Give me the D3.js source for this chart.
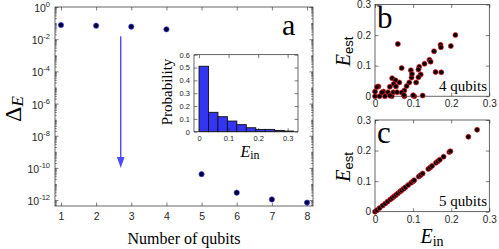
<!DOCTYPE html>
<head>
    <meta charset="utf-8">
    <script src="https://d3js.org/d3.v7.min.js"></script>
</head>
<body style="background: white; margin: 0">
    <div id="my_dataviz"></div>
    <script>
        // panel a: error vs number of qubits
        var qubits = [1, 2, 3, 4, 5, 6, 7, 8];
        var deltaE = [7.6e-2, 6.9e-2, 6.0e-2, 4.1e-2, 4.1e-11, 2.9e-12, 1.1e-12, 7e-13];
        var logExps = [0, -2, -4, -6, -8, -10, -12];

        // inset histogram of E_in
        var binLeft = [0, 0.032, 0.064, 0.096, 0.128, 0.160, 0.192, 0.224, 0.256, 0.288];
        var binProb = [0.51, 0.151, 0.117, 0.083, 0.055, 0.031, 0.018, 0.018, 0.010, 0.005];
        var binWidth = 0.032;
        var insetXTicks = [0, 0.1, 0.2, 0.3];
        var insetYTicks = [0, 0.1, 0.2, 0.3, 0.4, 0.5, 0.6];

        // panel b: 4 qubits
        var b4In = [0.211, 0.172, 0.173, 0.199, 0.060, 0.155, 0.143, 0.146, 0.130, 0.116, 0.114, 0.159, 0.174,
            0.070, 0.094, 0.120, 0.096, 0.114, 0.108, 0.090, 0.045, 0.054, 0.064, 0.049, 0.083, 0.077, 0.009,
            0.039, 0.055, 0.022, 0.034, 0.048, 0.058, 0.000, 0.012, 0.026, 0.044, 0.077, 0.103, 0.125, 0.100,
            0.070, 0.000, 0.005, 0.018, 0.039, 0.076, 0.097];
        var b4Est = [0.200, 0.168, 0.160, 0.164, 0.171, 0.147, 0.119, 0.113, 0.106, 0.096, 0.087, 0.079, 0.078,
            0.092, 0.085, 0.071, 0.061, 0.062, 0.045, 0.045, 0.059, 0.052, 0.045, 0.040, 0.033, 0.019, 0.032,
            0.031, 0.032, 0.015, 0.013, 0.013, 0.013, 0.000, 0.000, 0.000, 0.000, 0.000, 0.000, 0.002, 0.003,
            0.012, 0.015, 0.030, 0.012, 0.002, 0.004, 0.073];

        // panel c: 5 qubits
        var c5In = [0, 0.005, 0.012, 0.020, 0.027, 0.033, 0.040, 0.045, 0.050, 0.055, 0.060, 0.066, 0.070,
            0.075, 0.080, 0.087, 0.095, 0.100, 0.103, 0.115, 0.120, 0.125, 0.140, 0.145, 0.150, 0.160, 0.165,
            0.170, 0.180, 0.195, 0.198, 0.245, 0.268];
        var c5Est = [0, 0.005, 0.012, 0.020, 0.027, 0.033, 0.040, 0.045, 0.050, 0.055, 0.060, 0.066, 0.070,
            0.075, 0.080, 0.087, 0.095, 0.100, 0.103, 0.115, 0.120, 0.125, 0.140, 0.145, 0.150, 0.160, 0.165,
            0.170, 0.180, 0.195, 0.198, 0.245, 0.268];
        var panelTicks = [0, 0.1, 0.2, 0.3];

        var axisColor = "#262626";
        var sans = "'Liberation Sans', Arial, sans-serif";
        var serif = "'Liberation Serif', 'Times New Roman', serif";

        var svg = d3.select("#my_dataviz")
            .append("svg")
            .attr("width", 499)
            .attr("height", 249);

        function styleAxis(g, size) {
            g.select(".domain").remove();
            g.selectAll("line").attr("stroke", axisColor).attr("stroke-width", 0.6);
            g.selectAll("text").attr("fill", axisColor).style("font-family", sans).style("font-size", size + "px");
        }

        // draws a box with inward ticks on all four sides
        function box(x, y, xt, yt, fontSize, pad, showX, showY) {
            var x0 = x.range()[0], x1 = x.range()[1], y0 = y.range()[0], y1 = y.range()[1];
            var fmt = function (d) { return d3.format("~g")(d) };
            svg.append("g").attr("transform", "translate(0," + y0 + ")")
                .call(d3.axisBottom(x).tickValues(xt).tickSize(-3.5).tickSizeOuter(0).tickPadding(pad)
                    .tickFormat(showX ? fmt : ""))
                .call(styleAxis, fontSize);
            svg.append("g").attr("transform", "translate(0," + y1 + ")")
                .call(d3.axisTop(x).tickValues(xt).tickSize(-3.5).tickSizeOuter(0).tickFormat(""))
                .call(styleAxis, fontSize);
            svg.append("g").attr("transform", "translate(" + x0 + ",0)")
                .call(d3.axisLeft(y).tickValues(yt).tickSize(-3.5).tickSizeOuter(0).tickPadding(pad)
                    .tickFormat(showY ? fmt : ""))
                .call(styleAxis, fontSize);
            svg.append("g").attr("transform", "translate(" + x1 + ",0)")
                .call(d3.axisRight(y).tickValues(yt).tickSize(-3.5).tickSizeOuter(0).tickFormat(""))
                .call(styleAxis, fontSize);
            svg.append("rect")
                .attr("x", x0).attr("y", y1)
                .attr("width", x1 - x0).attr("height", y0 - y1)
                .attr("fill", "none").attr("stroke", axisColor).attr("stroke-width", 0.7);
        }

        // ---------- panel a ----------
        var xMain = d3.scaleLinear().domain([0.83, 8.17]).range([55, 313]);
        var yMain = d3.scaleLog().domain([4.3e-13, 1]).range([206, 7]);

        var majors = logExps.map(function (e) { return Math.pow(10, e) });
        var minors = [];
        for (var e = -13; e < 0; e++) {
            for (var k = 1; k < 10; k++) {
                var v = k * Math.pow(10, e);
                if (v >= 4.3e-13 && majors.indexOf(v) < 0) minors.push(v);
            }
        }

        box(xMain, yMain, qubits, majors, 10.5, 7, true, false);
        // minor log ticks, left and right
        svg.append("g").attr("transform", "translate(55,0)")
            .call(d3.axisLeft(yMain).tickValues(minors).tickSize(-1.8).tickSizeOuter(0).tickFormat(""))
            .call(styleAxis, 10);
        svg.append("g").attr("transform", "translate(313,0)")
            .call(d3.axisRight(yMain).tickValues(minors).tickSize(-1.8).tickSizeOuter(0).tickFormat(""))
            .call(styleAxis, 10);

        // 10^n labels
        var logLab = svg.append("g").selectAll("text")
            .data(logExps)
            .enter()
            .append("text")
            .attr("x", 50)
            .attr("y", function (d) { return yMain(Math.pow(10, d)) + 5 })
            .attr("text-anchor", "end")
            .attr("fill", axisColor)
            .style("font-family", sans)
            .style("font-size", "10.5px");
        logLab.append("tspan").text("10");
        logLab.append("tspan").attr("dy", -5).style("font-size", "7.5px").text(function (d) { return d == 0 ? "0" : "-" + (-d) });

        // arrow
        var arrowX = 2.7, arrowFrom = 1.5e-2, arrowTo = 1e-10;
        var ax = xMain(arrowX), tipY = yMain(arrowTo);
        svg.append("line")
            .attr("x1", ax).attr("x2", ax)
            .attr("y1", yMain(arrowFrom)).attr("y2", tipY - 8)
            .attr("stroke", "#4a4aff").attr("stroke-width", 1.4);
        svg.append("path")
            .attr("d", "M" + (ax - 3.8) + "," + (tipY - 11) + "L" + (ax + 3.8) + "," + (tipY - 11) + "L" + ax + "," + tipY + "Z")
            .attr("fill", "#4a4aff");

        svg.append("g").selectAll("circle")
            .data(qubits)
            .enter()
            .append("circle")
            .attr("cx", function (d) { return xMain(d) })
            .attr("cy", function (d, i) { return yMain(deltaE[i]) })
            .attr("r", 2.6)
            .attr("fill", "#00002e")
            .attr("stroke", "#3a3aff")
            .attr("stroke-width", 0.7);

        svg.append("text")
            .attr("x", 184).attr("y", 244)
            .attr("text-anchor", "middle")
            .style("font-family", serif).style("font-size", "16px")
            .text("Number of qubits");

        var dl = svg.append("text")
            .attr("transform", "translate(21,109) rotate(-90)")
            .attr("text-anchor", "middle")
            .style("font-family", serif);
        dl.append("tspan").style("font-size", "24px").text("Δ");
        dl.append("tspan").attr("dy", 2).style("font-size", "17px").style("font-style", "italic").text("E");

        svg.append("text")
            .attr("x", 282).attr("y", 35)
            .style("font-family", serif).style("font-size", "30px")
            .text("a");

        // ---------- inset ----------
        var xIn = d3.scaleLinear().domain([-0.017, 0.335]).range([194, 298]);
        var yIn = d3.scaleLinear().domain([0, 0.6]).range([131.7, 54.7]);

        svg.append("rect").attr("x", 194).attr("y", 54.7).attr("width", 104).attr("height", 77).attr("fill", "white");
        svg.append("g").selectAll("rect")
            .data(binProb)
            .enter()
            .append("rect")
            .attr("x", function (d, i) { return xIn(binLeft[i]) })
            .attr("y", function (d) { return yIn(d) })
            .attr("width", xIn(binWidth) - xIn(0))
            .attr("height", function (d) { return yIn(0) - yIn(d) })
            .attr("fill", "#3434f4")
            .attr("stroke", "#111")
            .attr("stroke-width", 0.9);
        box(xIn, yIn, insetXTicks, insetYTicks, 7.5, 4, true, true);

        svg.append("text")
            .attr("transform", "translate(172,92) rotate(-90)")
            .attr("text-anchor", "middle")
            .style("font-family", serif).style("font-size", "15px")
            .text("Probability");

        var ein1 = svg.append("text")
            .attr("x", 250).attr("y", 156.5)
            .attr("text-anchor", "middle")
            .style("font-family", serif);
        ein1.append("tspan").style("font-size", "16px").style("font-style", "italic").text("E");
        ein1.append("tspan").attr("dy", 2.5).style("font-size", "12px").text("in");

        // ---------- panels b and c ----------
        function scatter(top, xs, ys, letter, lab, showXLab) {
            var x = d3.scaleLinear().domain([0, 0.3]).range([375, 489.3]);
            var y = d3.scaleLinear().domain([0, 0.3]).range([top + 91.7, top]);
            box(x, y, panelTicks, panelTicks, 10, 4, true, true);

            svg.append("g").selectAll("circle")
                .data(xs)
                .enter()
                .append("circle")
                .attr("cx", function (d) { return x(d) })
                .attr("cy", function (d, i) { return y(ys[i]) })
                .attr("r", 2.5)
                .attr("fill", "black")
                .attr("stroke", "#ee1c24")
                .attr("stroke-width", 0.7);

            svg.append("text")
                .attr("x", 377).attr("y", top + 23)
                .style("font-family", serif).style("font-size", "31px")
                .text(letter);
            svg.append("text")
                .attr("x", 487).attr("y", top + 86)
                .attr("text-anchor", "end")
                .style("font-family", serif).style("font-size", "15px")
                .text(lab);

            var el = svg.append("text")
                .attr("transform", "translate(350," + (top + 47) + ") rotate(-90)")
                .attr("text-anchor", "middle");
            el.append("tspan").style("font-family", serif).style("font-size", "20px").style("font-style", "italic").text("E");
            el.append("tspan").attr("dy", 3).style("font-family", sans).style("font-size", "13px").text("est");

            if (showXLab) {
                var ei = svg.append("text")
                    .attr("x", 432).attr("y", top + 123)
                    .attr("text-anchor", "middle")
                    .style("font-family", serif);
                ei.append("tspan").style("font-size", "20px").style("font-style", "italic").text("E");
                ei.append("tspan").attr("dy", 3).style("font-size", "14px").text("in");
            }
        }

        scatter(4.5, b4In, b4Est, "b", "4 qubits", false);
        scatter(120, c5In, c5Est, "c", "5 qubits", true);
    </script>
</body>
</html>
